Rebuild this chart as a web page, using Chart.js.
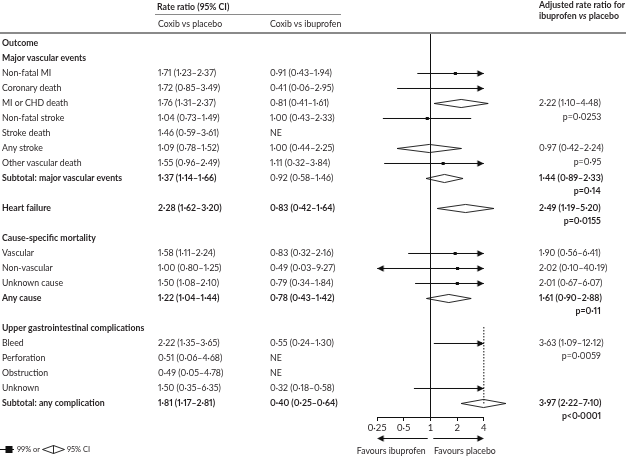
<!DOCTYPE html>
<html><head><meta charset="utf-8">
<script src="https://cdn.jsdelivr.net/npm/chart.js@4"></script>
<style>
html,body{margin:0;padding:0;background:#fff;}
#wrap{position:relative;width:626px;height:456px;overflow:hidden;font-family:Lato,"Open Sans",sans-serif;font-size:9.6px;color:#231f20;}
#c{position:absolute;left:0;top:0;}
.t{position:absolute;white-space:nowrap;line-height:12px;transform:scaleX(0.91);transform-origin:0 50%;font-feature-settings:"pnum" 1;font-variant-numeric:proportional-nums;}
.t.r{transform-origin:100% 50%;}
.t.s{font-size:8.2px;}
.b{font-weight:bold;}
.hl{position:absolute;background:#8a8a8a;}
</style></head><body>
<div id="wrap"><canvas id="c" width="626" height="456"></canvas></div>
<script>
// ---------- DATA ----------
const outcomes = ["Outcome","Major vascular events","Non-fatal MI","Coronary death","MI or CHD death","Non-fatal stroke","Stroke death","Any stroke","Other vascular death","Subtotal: major vascular events","","Heart failure","","Cause-specific mortality","Vascular","Non-vascular","Unknown cause","Any cause","","Upper gastrointestinal complications","Bleed","Perforation","Obstruction","Unknown","Subtotal: any complication"];
const boldOutcomeRows = [0,1,9,11,13,17,19,24];
const coxibVsPlacebo = ["","","1·71 (1·23–2·37)","1·72 (0·85–3·49)","1·76 (1·31–2·37)","1·04 (0·73–1·49)","1·46 (0·59–3·61)","1·09 (0·78–1·52)","1·55 (0·96–2·49)","1·37 (1·14–1·66)","","2·28 (1·62–3·20)","","","1·58 (1·11–2·24)","1·00 (0·80–1·25)","1·50 (1·08–2·10)","1·22 (1·04–1·44)","","","2·22 (1·35–3·65)","0·51 (0·06–4·68)","0·49 (0·05–4·78)","1·50 (0·35–6·35)","1·81 (1·17–2·81)"];
const boldPlaceboRows = [9,11,17,24];
const coxibVsIbuprofen = ["","","0·91 (0·43–1·94)","0·41 (0·06–2·95)","0·81 (0·41–1·61)","1·00 (0·43–2·33)","NE","1·00 (0·44–2·25)","1·11 (0·32–3·84)","0·92 (0·58–1·46)","","0·83 (0·42–1·64)","","","0·83 (0·32–2·16)","0·49 (0·03–9·27)","0·79 (0·34–1·84)","0·78 (0·43–1·42)","","","0·55 (0·24–1·30)","NE","NE","0·32 (0·18–0·58)","0·40 (0·25–0·64)"];
const boldIbuprofenRows = [11,17,24];

// adjusted rate ratio for ibuprofen vs placebo (right column)
const adjRows = [4,7,9,11,14,15,16,17,20,24];
const adjText = ["2·22 (1·10–4·48)","0·97 (0·42–2·24)","1·44 (0·89–2·33)","2·49 (1·19–5·20)","1·90 (0·56–6·41)","2·02 (0·10–40·19)","2·01 (0·67–6·07)","1·61 (0·90–2·88)","3·63 (1·09–12·12)","3·97 (2·22–7·10)"];
const adjP = ["p=0·0253","p=0·95","p=0·14","p=0·0155","","","","p=0·11","p=0·0059","p<0·0001"];
const boldAdjRows = [9,11,17,24];

// forest plot: confidence-interval lines (99% CI)
const lineRows = [2,3,5,8,14,15,16,20,23];
const lineEst  = [1.91,null,0.92,1.39,1.90,2.02,2.01,3.63,null];
const lineLo   = [0.71,0.42,0.29,0.30,0.56,0.10,0.67,1.09,0.65];
const lineHi   = [5.5,6.0,2.88,6.0,6.41,40.19,6.07,12.12,6.5];

// forest plot: diamonds (95% CI)
const diamondRows = [4,7,9,11,17,24];
const diamondEst  = [2.22,0.97,1.44,2.49,1.61,3.97];
const diamondLo   = [1.10,0.42,0.89,1.19,0.90,2.22];
const diamondHi   = [4.48,2.24,2.33,5.20,2.88,7.10];

const xTicks = [0.25,0.5,1,2,4];
const xTickLabels = ["0·25","0·5","1","2","4"];
const xMin = 0.25, xMax = 4;
const dottedRef = {x:4, from:18.9, to:24};

// ---------- LAYOUT ----------
const AREA_LEFT = 377.17, AREA_RIGHT = 483.83, AREA_TOP = 34, AREA_BOTTOM = 417;
const ROW_MIN = -0.6333, ROW_MAX = 24.9;
const DIAMOND_H = 0.27; // half height in row units
const P_OFFSET = {4:14, 7:14};  // px below estimate line; default 12.5
const INK = '#111';

function arrowImg(dir){
  const c=document.createElement('canvas'); c.width=16; c.height=9;
  const g=c.getContext('2d'); g.fillStyle=INK; g.beginPath();
  if(dir>0){g.moveTo(8,4.5);g.lineTo(1.5,1.3);g.lineTo(1.5,7.7);}
  else {g.moveTo(8,4.5);g.lineTo(14.5,1.3);g.lineTo(14.5,7.7);}
  g.closePath(); g.fill(); return c;
}
const arrowR = arrowImg(1), arrowL = arrowImg(-1);

const datasets = [];
const lineDs = (data, extra) => Object.assign({data, showLine:true, borderColor:INK, borderWidth:1, pointRadius:0, fill:false, clip:false, tension:0}, extra||{});

datasets.push(lineDs([{x:1,y:ROW_MIN},{x:1,y:ROW_MAX}]));
datasets.push(lineDs([{x:dottedRef.x,y:dottedRef.from},{x:dottedRef.x,y:dottedRef.to}],{borderDash:[1.5,1.5]}));
lineRows.forEach((r,i)=>{
  datasets.push(lineDs([{x:Math.max(lineLo[i],xMin),y:r},{x:Math.min(lineHi[i],xMax),y:r}]));
});
diamondRows.forEach((r,i)=>{
  datasets.push(lineDs([{x:diamondLo[i],y:r},{x:diamondEst[i],y:r-DIAMOND_H},{x:diamondHi[i],y:r},{x:diamondEst[i],y:r+DIAMOND_H},{x:diamondLo[i],y:r}],{borderWidth:0.9}));
});
datasets.push({data: lineRows.map((r,i)=>lineEst[i]==null?null:{x:lineEst[i],y:r}).filter(Boolean), pointStyle:'rect', pointRadius:2.2, pointBorderWidth:0, backgroundColor:INK, showLine:false});
datasets.push({data: lineRows.map((r,i)=>lineHi[i]>xMax?{x:xMax,y:r}:null).filter(Boolean), pointStyle:arrowR, pointRadius:5, showLine:false});
datasets.push({data: lineRows.map((r,i)=>lineLo[i]<xMin?{x:xMin,y:r}:null).filter(Boolean), pointStyle:arrowL, pointRadius:5, showLine:false});

const favoursPlugin = {
  id:'favours',
  afterDraw(chart){
    const ctx=chart.ctx, xs=chart.scales.x;
    const y=438.5;
    const l0=xs.getPixelForValue(0.93), l1=xs.getPixelForValue(xMin);
    const r0=xs.getPixelForValue(1.075), r1=xs.getPixelForValue(xMax);
    ctx.save(); ctx.strokeStyle=INK; ctx.lineWidth=1;
    ctx.beginPath(); ctx.moveTo(l0,y); ctx.lineTo(l1+4,y); ctx.moveTo(r0,y); ctx.lineTo(r1-4,y); ctx.stroke();
    ctx.drawImage(arrowL, l1-8, y-4.5); ctx.drawImage(arrowR, r1-8, y-4.5);
    ctx.restore();
  }
};

const cfg = {
  type:'scatter',
  data:{datasets},
  options:{
    responsive:false, animation:false, events:[],
    layout:{padding:{left:AREA_LEFT, right:626-AREA_RIGHT, top:AREA_TOP, bottom:20}},
    plugins:{legend:{display:false}, tooltip:{enabled:false}},
    scales:{
      x:{type:'logarithmic', min:xMin, max:xMax,
         afterBuildTicks:s=>{s.ticks = xTicks.map(v=>({value:v}));},
         ticks:{callback:(v,i)=>xTickLabels[i], font:{family:'Lato',size:9.5}, color:'#231f20', padding:1, maxRotation:0, autoSkip:false},
         grid:{drawOnChartArea:false, drawTicks:true, tickLength:4, color:INK, lineWidth:1},
         border:{display:true, color:INK, width:1}},
      y:{type:'linear', display:false, reverse:true, min:ROW_MIN, max:ROW_MAX}
    }
  },
  plugins:[favoursPlugin]
};
const chart = new Chart(document.getElementById('c'), cfg);
chart.options.layout.padding.bottom += chart.chartArea.bottom - AREA_BOTTOM;
chart.update();

// ---------- TEXT ----------
const wrap = document.getElementById('wrap');
function txt(str, x, yc, opts){
  opts = opts||{};
  const d=document.createElement('div');
  d.className='t'+(opts.bold?' b':'')+(opts.right!=null?' r':'')+(opts.small?' s':'');
  d.innerHTML = str;
  d.style.top = (yc-6)+'px';
  if(opts.right!=null){ d.style.right=(626-opts.right)+'px'; } else d.style.left=x+'px';
  wrap.appendChild(d); return d;
}
function hline(x,y,w,h,color){const d=document.createElement('div');d.className='hl';d.style.left=x+'px';d.style.top=y+'px';d.style.width=w+'px';d.style.height=h+'px';if(color)d.style.background=color;wrap.appendChild(d);}
const ys = chart.scales.y;
const rowY = r => ys.getPixelForValue(r);

txt("Rate ratio (95% CI)", 157, 6.5, {bold:true});
hline(155,13.5,186,1);
txt("Coxib vs placebo", 158, 24);
txt("Coxib vs ibuprofen", 270, 24);
txt("Adjusted rate ratio for", 539, 5, {bold:true});
txt("ibuprofen <i>vs</i> placebo", 539, 16, {bold:true});
hline(0,32,626,2,'#8a8a8a');

outcomes.forEach((s,r)=>{ if(s) txt(s, 2, rowY(r), {bold:boldOutcomeRows.includes(r)}); });
coxibVsPlacebo.forEach((s,r)=>{ if(s) txt(s, 158, rowY(r), {bold:boldPlaceboRows.includes(r)}); });
coxibVsIbuprofen.forEach((s,r)=>{ if(s) txt(s, 270, rowY(r), {bold:boldIbuprofenRows.includes(r)}); });
adjRows.forEach((r,i)=>{
  const b = boldAdjRows.includes(r);
  txt(adjText[i], 539, rowY(r), {bold:b});
  if(adjP[i]) txt(adjP[i], 0, rowY(r)+(P_OFFSET[r]||12.5), {bold:b, right:601});
});

txt("Favours ibuprofen", 0, 451, {right:426});
txt("Favours placebo", 434, 451);

const lg=document.createElement('div');
lg.style.cssText='position:absolute;left:0;top:443px;height:12px;';
lg.innerHTML='<svg width="100" height="12" style="position:absolute;left:0;top:0"><line x1="0" y1="6.5" x2="14" y2="6.5" stroke="#111" stroke-width="1"/><rect x="5.5" y="3" width="7" height="7" fill="#111"/><polygon points="42.5,6.5 53.5,2.5 64.5,6.5 53.5,10.5" fill="none" stroke="#111" stroke-width="0.9"/><line x1="53.5" y1="2.5" x2="53.5" y2="10.5" stroke="#111" stroke-width="0.9"/></svg>';
wrap.appendChild(lg);
txt("99% or", 17, 449, {small:true});
txt("95% CI", 67, 449, {small:true});
</script>
</body></html>
